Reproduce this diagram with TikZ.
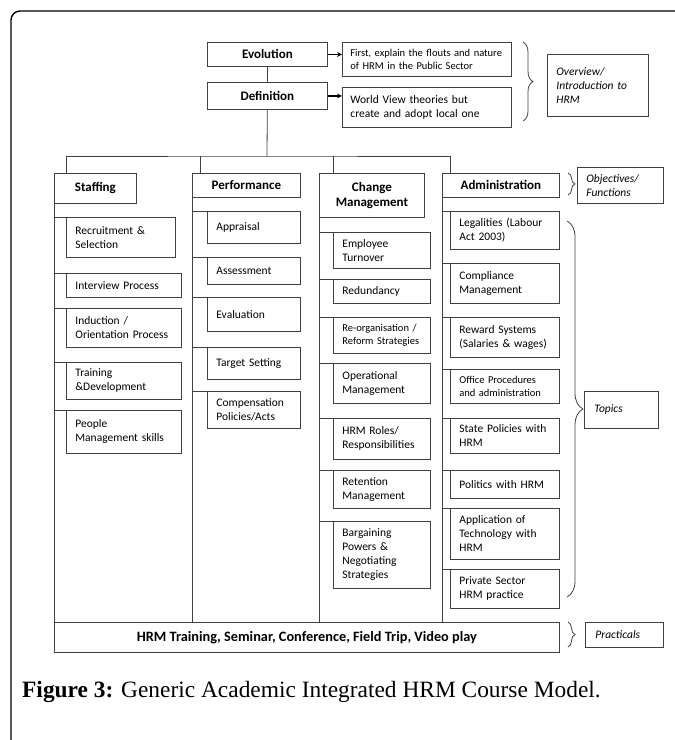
\documentclass[tikz,border=0pt]{standalone}
\usepackage{fontspec}
\newfontfamily\calibri{Carlito}
\newfontfamily\capserif{Liberation Serif}
\usetikzlibrary{positioning,arrows,decorations.pathreplacing}
\definecolor{linegray}{HTML}{404040}
\tikzstyle{line} = [draw=linegray, line width=0.8pt]
\tikzstyle{arrow} = [line width=1.2pt, ->, >=stealth]
\tikzstyle{head} = [draw=linegray, line width=0.8pt, anchor=north west, inner sep=0pt, align=center, font=\calibri\bfseries\fontsize{13}{15}\selectfont]
\tikzstyle{item} = [draw=linegray, line width=0.8pt, anchor=north west, inner xsep=9pt, inner ysep=1pt, align=left, font=\calibri\fontsize{11.5}{14}\selectfont]
\tikzstyle{small} = [font=\calibri\fontsize{10.5}{13}\selectfont]
\tikzstyle{note} = [item, font=\calibri\itshape\fontsize{11.5}{14}\selectfont]
\tikzstyle{brc} = [draw=linegray, line width=0.8pt, decorate]

\begin{document}
\begin{tikzpicture}[x=1pt, y=-1pt]
        \useasboundingbox (0,0) rectangle (675,740);
        \draw[line width=1.4pt, rounded corners=9pt] (11,740) -- (11,11) -- (675,11);

        % Overview
        \node[head, minimum width=120pt, minimum height=24pt] (evo) at (207,42) {Evolution};
        \node[head, minimum width=120pt, minimum height=27pt] (defn) at (207,82) {Definition};
        \node[item, small, inner xsep=8pt, text width=153pt, minimum height=34pt] (evotxt) at (342,42) {First, explain the flouts and nature\\of HRM in the Public Sector};
        \node[item, inner xsep=8pt, text width=153pt, minimum height=40pt] (deftxt) at (342,87) {World View theories but\\create and adopt local one};
        \node[note, text width=83pt, minimum height=62pt] (ovw) at (547,54) {Overview/\\Introduction to\\HRM};

        \draw[line] (evo) -- (defn);
        \draw[arrow] (evo.east) -- (evo.east -| evotxt.west);
        \draw[arrow] (defn.east) -- (defn.east -| deftxt.west);
        \draw[brc, decoration={brace, amplitude=10pt}] (523,42) -- (523,121);

        % Functions
        \node[head, minimum width=82pt, minimum height=30pt] (staff) at (54,173) {Staffing};
        \node[head, minimum width=108pt, minimum height=24pt] (perf) at (192,173) {Performance};
        \node[head, minimum width=105pt, minimum height=44pt] (chg) at (319,173) {Change\\Management};
        \node[head, minimum width=117pt, minimum height=24pt] (adm) at (442,173) {Administration};
        \node[note, text width=68pt, minimum height=36pt] (obj) at (577,167) {Objectives/\\Functions};
        \draw[brc, decoration={brace, amplitude=7pt}] (568,173) -- (568,195);

        \coordinate (bus) at (267,156);
        \draw[line] (defn) -- (bus);
        \draw[line] ([xshift=12pt]staff.north west) |- (bus) -| ([xshift=8pt]adm.north west);
        \draw[line] ([xshift=8pt]perf.north west) -- ([xshift=8pt]perf.north west |- bus);
        \draw[line] ([xshift=14pt]chg.north west) -- ([xshift=14pt]chg.north west |- bus);

        % Staffing
        \node[item, text width=91pt, minimum height=40pt] (rec) at (66,217) {Recruitment \&\\Selection};
        \node[item, text width=97pt, minimum height=24pt] (intv) at (66,273) {Interview Process};
        \node[item, text width=97pt, minimum height=39pt] (ind) at (66,308) {Induction /\\Orientation Process};
        \node[item, text width=97pt, minimum height=37pt] (trn) at (66,362) {Training\\\&Development};
        \node[item, text width=97pt, minimum height=43pt] (ppl) at (66,410) {People\\Management skills};

        % Performance
        \node[item, text width=75pt, minimum height=32pt] (appr) at (207,211) {Appraisal};
        \node[item, text width=75pt, minimum height=27pt] (asmt) at (207,257) {Assessment};
        \node[item, text width=75pt, minimum height=34pt] (evl) at (207,297) {Evaluation};
        \node[item, text width=75pt, minimum height=32pt] (tgt) at (207,347) {Target Setting};
        \node[item, text width=75pt, minimum height=37pt] (comp) at (207,391) {Compensation\\Policies/Acts};

        % Change Management
        \node[item, text width=79pt, minimum height=36pt] (emp) at (333,232) {Employee\\Turnover};
        \node[item, text width=79pt, minimum height=24pt] (red) at (333,279) {Redundancy};
        \node[item, small, text width=79pt, minimum height=36pt] (reorg) at (333,317) {Re-organisation /\\Reform Strategies};
        \node[item, text width=79pt, minimum height=40pt] (oper) at (333,363) {Operational\\Management};
        \node[item, text width=79pt, minimum height=41pt] (roles) at (333,418) {HRM Roles/\\Responsibilities};
        \node[item, text width=79pt, minimum height=38pt] (ret) at (333,470) {Retention\\Management};
        \node[item, text width=79pt, minimum height=67pt] (barg) at (333,521) {Bargaining\\Powers \&\\Negotiating\\Strategies};

        % Administration
        \node[item, text width=91pt, minimum height=38pt] (leg) at (450,211) {Legalities (Labour\\Act 2003)};
        \node[item, text width=91pt, minimum height=40pt] (compl) at (450,263) {Compliance\\Management};
        \node[item, text width=91pt, minimum height=40pt] (rew) at (450,317) {Reward Systems\\(Salaries \& wages)};
        \node[item, small, text width=91pt, minimum height=34pt] (off) at (450,369) {Office Procedures\\and administration};
        \node[item, text width=91pt, minimum height=35pt] (state) at (450,418) {State Policies with\\HRM};
        \node[item, text width=91pt, minimum height=28pt] (pol) at (450,470) {Politics with HRM};
        \node[item, text width=91pt, minimum height=51pt] (app) at (450,508) {Application of\\Technology with\\HRM};
        \node[item, text width=91pt, minimum height=39pt] (priv) at (450,569) {Private Sector\\HRM practice};
        \node[note, inner xsep=10pt, text width=54pt, minimum height=37pt] (top) at (584,391) {Topics};
        \draw[brc, decoration={brace, amplitude=16pt}] (567,221) -- (567,597);

        % Practicals
        \node[head, font=\calibri\bfseries\fontsize{14.3}{17}\selectfont, minimum width=505pt, minimum height=30pt] (prac) at (54,622) {HRM Training, Seminar, Conference, Field Trip, Video play};
        \node[note, inner xsep=10pt, text width=58pt, minimum height=25pt] (pnote) at (585,622) {Practicals};
        \draw[brc, decoration={brace, amplitude=7pt}] (568,622) -- (568,647);

        % Column lines
        \draw[line] (staff.south west) -- (staff.south west |- prac.north);
        \draw[line] (perf.south west) -- (perf.south west |- prac.north);
        \draw[line] (chg.south west) -- (chg.south west |- prac.north);
        \draw[line] (adm.south west) -- (adm.south west |- prac.north);

        % Branches
        \draw[line] (rec.north west) -- (rec.north west -| staff.west);
        \draw[line] (intv.north west) -- (intv.north west -| staff.west);
        \draw[line] (ind.north west) -- (ind.north west -| staff.west);
        \draw[line] (trn.north west) -- (trn.north west -| staff.west);
        \draw[line] (ppl.north west) -- (ppl.north west -| staff.west);

        \draw[line] (appr.north west) -- (appr.north west -| perf.west);
        \draw[line] (asmt.north west) -- (asmt.north west -| perf.west);
        \draw[line] (evl.north west) -- (evl.north west -| perf.west);
        \draw[line] (tgt.north west) -- (tgt.north west -| perf.west);
        \draw[line] (comp.north west) -- (comp.north west -| perf.west);

        \draw[line] (emp.north west) -- (emp.north west -| chg.west);
        \draw[line] (red.north west) -- (red.north west -| chg.west);
        \draw[line] (reorg.north west) -- (reorg.north west -| chg.west);
        \draw[line] (oper.north west) -- (oper.north west -| chg.west);
        \draw[line] (roles.north west) -- (roles.north west -| chg.west);
        \draw[line] (ret.north west) -- (ret.north west -| chg.west);
        \draw[line] (barg.north west) -- (barg.north west -| chg.west);

        \draw[line] (leg.north west) -- (leg.north west -| adm.west);
        \draw[line] (compl.north west) -- (compl.north west -| adm.west);
        \draw[line] (rew.north west) -- (rew.north west -| adm.west);
        \draw[line] (off.north west) -- (off.north west -| adm.west);
        \draw[line] (state.north west) -- (state.north west -| adm.west);
        \draw[line] (pol.north west) -- (pol.north west -| adm.west);
        \draw[line] (app.north west) -- (app.north west -| adm.west);
        \draw[line] (priv.north west) -- (priv.north west -| adm.west);

        % Caption
        \node[anchor=base west, inner sep=0pt, font=\capserif\fontsize{23.4}{28}\selectfont] (cap) at (22,697) {\textbf{Figure 3:} Generic Academic Integrated HRM Course Model.};

    \end{tikzpicture}
\end{document}
